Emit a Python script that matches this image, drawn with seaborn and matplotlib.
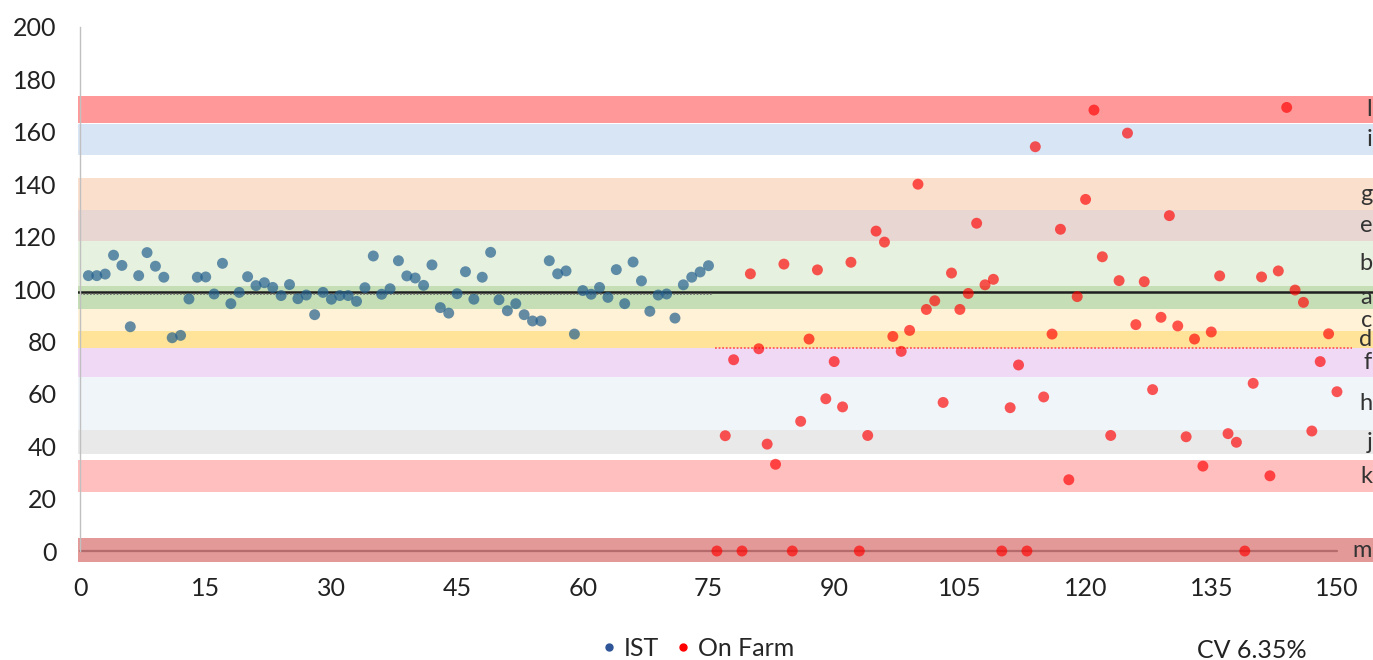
import numpy as np
import pandas as pd
import matplotlib
matplotlib.use("Agg")
import matplotlib.pyplot as plt
from matplotlib.lines import Line2D
import seaborn as sns

# ---------------- data ----------------
ist_x = list(range(1, 76))
ist_y = [105.1, 105.1, 105.7, 112.9, 109.0, 85.6, 105.1, 113.9, 108.7, 104.5,
         81.4, 82.3, 96.2, 104.5, 104.6, 98.1, 109.8, 94.4, 98.7, 104.7,
         101.3, 102.4, 100.6, 97.5, 101.7, 96.3, 97.7, 90.2, 98.7, 96.1,
         97.5, 97.5, 95.3, 100.5, 112.6, 98.0, 100.1, 110.8, 105.0, 104.2,
         101.4, 109.2, 92.9, 90.8, 98.2, 106.6, 96.1, 104.5, 114.0, 95.9,
         91.7, 94.4, 90.2, 87.8, 87.8, 110.8, 105.8, 106.9, 82.8, 99.4,
         98.0, 100.6, 96.8, 107.4, 94.4, 110.3, 103.1, 91.5, 97.7, 98.1,
         88.9, 101.6, 104.5, 106.5, 108.9]

farm_x = list(range(76, 151))
farm_y = [0, 44.0, 73.0, 0, 105.8, 77.2, 40.8, 33.1, 109.5, 0,
          49.5, 80.9, 107.3, 58.1, 72.3, 55.0, 110.2, 0, 44.1, 122.1,
          117.9, 81.9, 76.2, 84.2, 140.0, 92.2, 95.5, 56.7, 106.1, 92.2,
          98.3, 125.1, 101.6, 103.7, 0, 54.7, 71.0, 0, 154.3, 58.8,
          82.8, 122.8, 27.2, 97.1, 134.2, 168.3, 112.3, 44.1, 103.2, 159.5,
          86.4, 102.8, 61.6, 89.2, 128.0, 85.9, 43.6, 80.9, 32.4, 83.6,
          105.0, 44.8, 41.5, 0, 64.0, 104.6, 28.7, 106.9, 169.3, 99.6,
          94.9, 45.8, 72.3, 82.9, 60.8]

band_labels = ["l", "i", "g", "e", "b", "a", "c", "d", "f", "h", "j", "k", "m"]
band_low = [163.5, 151.0, 130.0, 118.5, 101.0, 92.3, 84.0, 77.4, 66.5, 46.2, 37.0, 22.4, -4.3]
band_high = [173.7, 163.0, 142.5, 130.0, 118.5, 101.0, 92.3, 84.0, 77.4, 66.5, 46.2, 34.7, 4.8]
band_colors = ["#ff9999", "#d7e5f4", "#fbdfcd", "#e8d6d2", "#e7f1df", "#c5deb6",
               "#fff2d6", "#ffe398", "#efd9f5", "#f0f5fa", "#e9e9e9", "#ffbfbf", "#e49999"]

overall_mean = 99.0
ist_mean = 98.2
farm_mean = 77.4
cv_text = "CV 6.35%"

x_ticks = [0, 15, 30, 45, 60, 75, 90, 105, 120, 135, 150]
y_ticks = [0, 20, 40, 60, 80, 100, 120, 140, 160, 180, 200]

# ---------------- plot ----------------
sns.set_style("white")
plt.rcParams["font.family"] = ["Lato", "DejaVu Sans"]

fig = plt.figure(figsize=(13.73, 6.60), dpi=100)
ax = fig.add_axes([77.5 / 1373, 1 - 562.8 / 660, 1 - 77.5 / 1373, 535.8 / 660])

xmin, xmax = -0.3, 154.3
ax.set_xlim(xmin, xmax)
ax.set_ylim(-4.5, 200)

for lab, lo, hi, c in zip(band_labels, band_low, band_high, band_colors):
    ax.axhspan(lo, hi, color=c, zorder=0, lw=0)
    ax.text(xmax - 0.1, (lo + hi) / 2, lab, ha="right", va="center",
            fontsize=17, color="#333333", zorder=5)

# reference lines
ax.plot([0, 150], [0, 0], color="#b56b6b", lw=1.6, zorder=1)
ax.axhline(overall_mean, color="#1f1f1f", lw=1.8, zorder=2)
ax.plot([0, 75.5], [ist_mean, ist_mean], color="#666666", lw=1.2, ls=(0, (1, 1)), zorder=2)
ax.plot([75.8, 151.8], [farm_mean, farm_mean], color="#ff5a5a", lw=1.3, ls=(0, (1, 1)), zorder=2)

ist_df = pd.DataFrame({"x": ist_x, "y": ist_y})
farm_df = pd.DataFrame({"x": farm_x, "y": farm_y})
sns.scatterplot(data=ist_df, x="x", y="y", ax=ax, color="#24608e", alpha=0.7,
                s=62, edgecolor="none", zorder=3, legend=False)
sns.scatterplot(data=farm_df, x="x", y="y", ax=ax, color="#ff0000", alpha=0.66,
                s=62, edgecolor="none", zorder=3, legend=False)

ax.set_xlabel("")
ax.set_ylabel("")
ax.set_xticks(x_ticks)
ax.set_yticks(y_ticks)
ax.tick_params(axis="both", length=0, labelsize=18, colors="#222222")
ax.tick_params(axis="y", pad=17)
ax.tick_params(axis="x", pad=10)
for s in ["top", "right", "bottom"]:
    ax.spines[s].set_visible(False)
ax.spines["left"].set_color("#c0c0c0")
ax.spines["left"].set_linewidth(1.0)
ax.spines["left"].set_bounds(0, 200)
ax.spines["left"].set_position(("data", 0))
ax.grid(False)

handles = [Line2D([], [], ls="none", marker="o", markersize=5, color="#2e5597"),
           Line2D([], [], ls="none", marker="o", markersize=5, color="#ff0000")]
fig.legend(handles, ["IST", "On Farm"], loc="center", bbox_to_anchor=(695 / 1373, 1 - 648 / 660),
           ncol=2, frameon=False, fontsize=18, handletextpad=0.1, columnspacing=0.45,
           handlelength=1.0)
fig.text(1197 / 1373, 1 - 650 / 660, cv_text, ha="left", va="center", fontsize=18, color="#222222")

fig.savefig("out.png", dpi=100)
